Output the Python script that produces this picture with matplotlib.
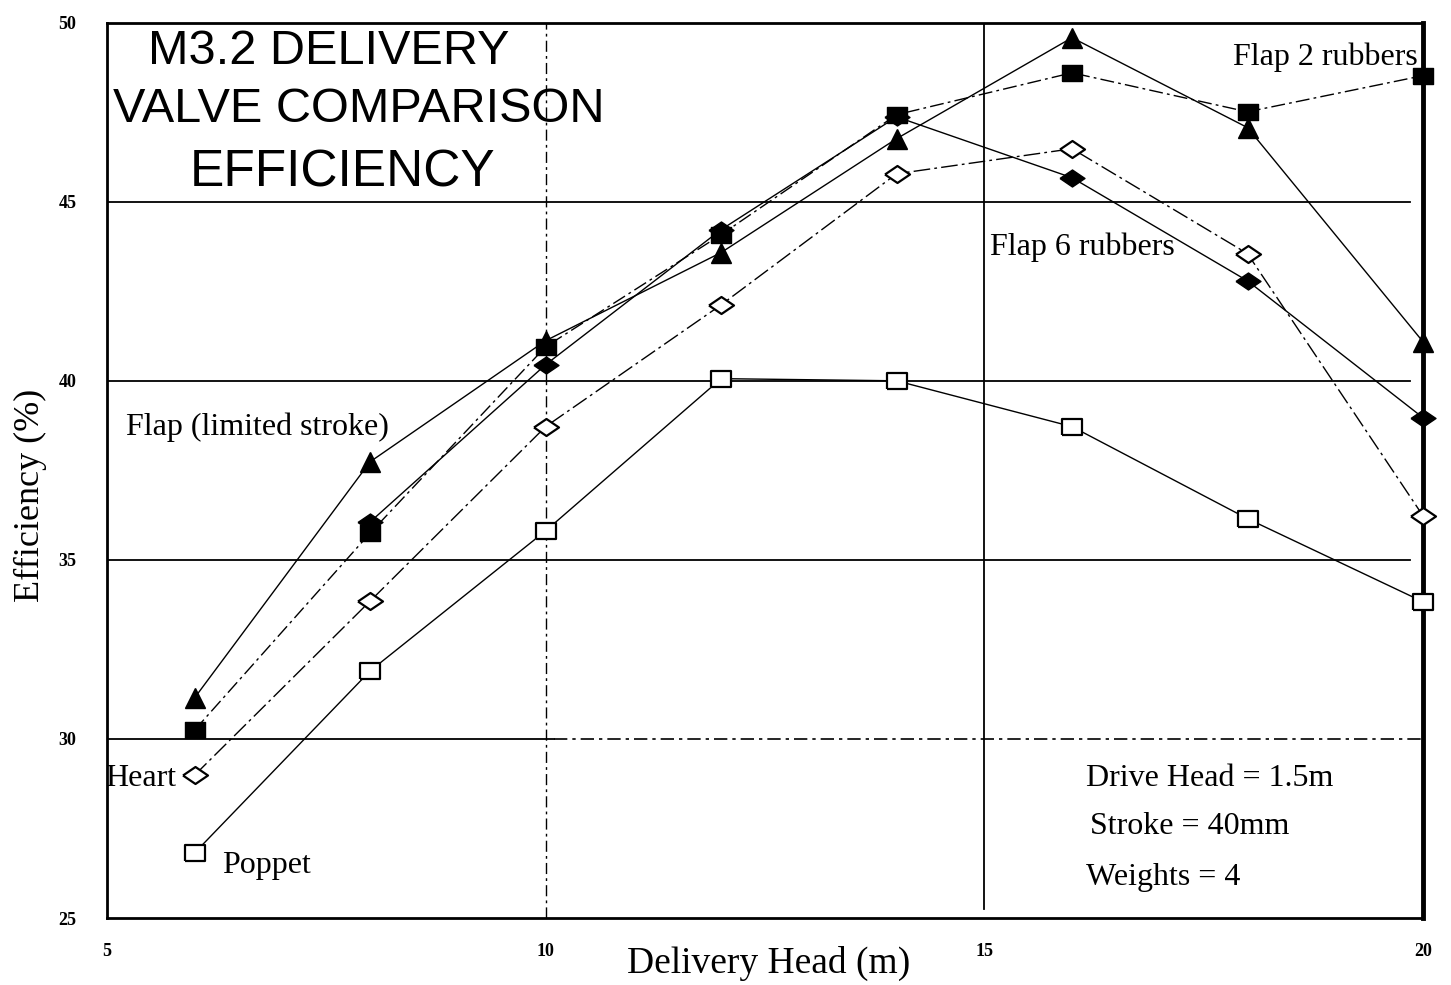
import matplotlib
matplotlib.use("Agg")
import matplotlib.pyplot as plt
from matplotlib.path import Path

# ---- data ----
head = [6, 8, 10, 12, 14, 16, 18, 20]
flap_limited = [31.15, 37.74, 41.12, 43.58, 46.76, 49.58, 47.07, 41.09]   # filled triangle
flap_2_rubbers = [30.25, 35.75, 40.95, 44.08, 47.43, 48.60, 47.51, 48.52]  # filled square
head_6 = [8, 10, 12, 14, 16, 18, 20]
flap_6_rubbers = [36.06, 40.45, 44.22, 47.37, 45.67, 42.79, 38.97]        # filled diamond
heart = [28.99, 33.85, 38.72, 42.12, 45.78, 46.48, 43.55, 36.23]          # open diamond
poppet = [26.82, 31.90, 35.81, 40.06, 40.00, 38.72, 36.15, 33.83]         # open square

xticks = [5, 10, 15, 20]
yticks = [25, 30, 35, 40, 45, 50]

serif = ["Liberation Serif", "DejaVu Serif"]
sans = ["Liberation Sans", "DejaVu Sans"]

diamond = Path([(-1, 0), (0, 0.68), (1, 0), (0, -0.68), (-1, 0)])
rect = Path([(-1, -0.75), (1, -0.75), (1, 0.75), (-1, 0.75), (-1, -0.75)])

fig = plt.figure(figsize=(14.51, 9.85), dpi=100)
ax = fig.add_axes([0.0737, 0.068, 0.907, 0.909])
ax.set_xlim(5, 20)
ax.set_ylim(25, 50)

# grid lines
for yv in [35, 40, 45]:
    ax.axhline(yv, xmin=0.0, xmax=0.99, color="black", lw=1.3, zorder=1)
ax.plot([5, 10.1], [30, 30], color="black", lw=1.3, zorder=1)
ax.plot([10.1, 20], [30, 30], color="black", lw=1.2, ls=(0, (8, 3, 2, 3)), zorder=1)
ax.axvline(10, color="black", lw=1.0, ls=(0, (8, 3, 2, 3)), zorder=1)
ax.axvline(15, ymin=0.01, color="black", lw=1.3, zorder=1)

lw = 1.0
common = dict(color="black", lw=lw, clip_on=False)
ax.plot(head, flap_limited, marker="^", ms=14, mfc="black", mec="black",
        zorder=3, **common)
ax.plot(head, flap_2_rubbers, ls=(0, (10, 3, 2, 3)), marker=rect, ms=15,
        mfc="black", mec="black", zorder=3, **common)
ax.plot(head_6, flap_6_rubbers, marker=diamond, ms=18, mfc="black",
        mec="black", zorder=3, **common)
ax.plot(head, heart, ls=(0, (12, 3, 2, 3)), marker=diamond, ms=18,
        mfc="white", mec="black", mew=1.6, zorder=4, **common)
ax.plot(head, poppet, marker=rect, ms=15, mfc="white", mec="black",
        mew=1.6, zorder=4, **common)

# spines
for s in ["left", "bottom", "top"]:
    ax.spines[s].set_linewidth(2.0)
ax.spines["right"].set_linewidth(3.5)

ax.set_xticks(xticks)
ax.set_yticks(yticks)
ax.tick_params(length=0)
ax.tick_params(axis="y", pad=22)
ax.tick_params(axis="x", pad=18)
for lab in ax.get_xticklabels() + ax.get_yticklabels():
    lab.set_family(serif)
    lab.set_fontweight("bold")
    lab.set_fontsize(13)


def ptext(px, py, s, **kw):
    fig.text(px / 1451, 1 - py / 985, s, **kw)


ptext(769, 963, "Delivery Head (m)", family=serif, fontsize=27,
      ha="center", va="center")
ptext(30, 495, "Efficiency (%)", family=serif, fontsize=26,
      ha="center", va="center", rotation=90)

ptext(329, 52, "M3.2 DELIVERY", family=sans, fontsize=35, ha="center", va="center")
ptext(359, 110, "VALVE COMPARISON", family=sans, fontsize=35, ha="center", va="center")
ptext(343, 173, "EFFICIENCY", family=sans, fontsize=37, ha="center", va="center")

tk = dict(family=serif, fontsize=23, va="center")
ptext(1233, 57, "Flap 2 rubbers", ha="left", **tk)
ptext(990, 247, "Flap 6 rubbers", ha="left", **tk)
ptext(126, 427, "Flap (limited stroke)", ha="left", **tk)
ptext(105, 778, "Heart", ha="left", **tk)
ptext(222, 866, "Poppet", ha="left", **tk)
ptext(1086, 778, "Drive Head = 1.5m", ha="left", **tk)
ptext(1090, 827, "Stroke = 40mm", ha="left", **tk)
ptext(1086, 878, "Weights = 4", ha="left", **tk)

fig.savefig("out.png", dpi=100, facecolor="white")
